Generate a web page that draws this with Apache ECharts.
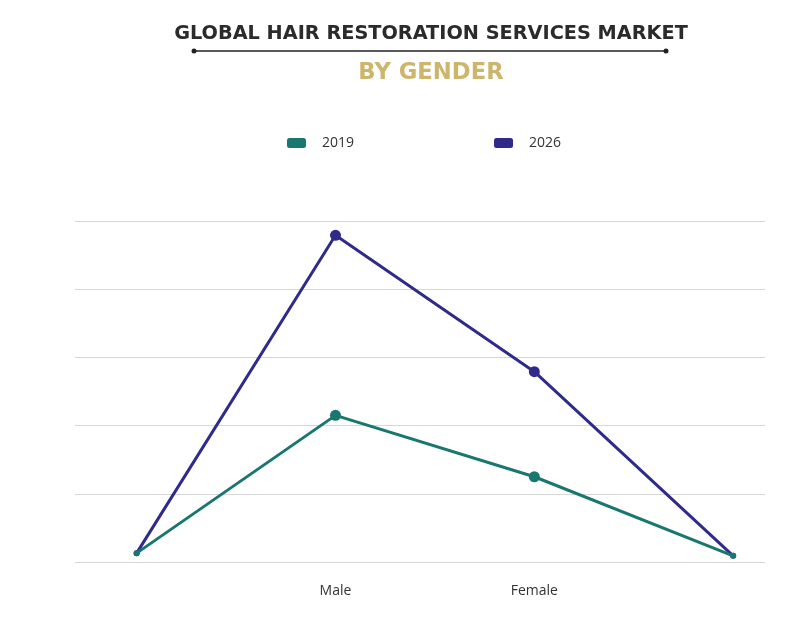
<!DOCTYPE html>
<html>
<head>
<meta charset="utf-8">
<script src="https://cdn.jsdelivr.net/npm/echarts@6/dist/echarts.min.js"></script>
<style>
    html, body { margin: 0; padding: 0; background: #fff; }
    #chart { width: 808px; height: 617px; }
</style>
</head>
<body>
    <div id="chart"></div>
    <script>
        // categories along x, blank ends are where the lines start and stop
        var categories = ['', 'Male', 'Female', ''];
        var years = ['2019', '2026'];
        var values2019 = [0.13, 2.15, 1.25, 0.09];
        var values2026 = [0.13, 4.79, 2.79, 0.09];
        var yTicks = [0, 1, 2, 3, 4, 5];

        var myChart = echarts.init(document.getElementById('chart'));

        function toPoints(arr) {
            return arr.map(function (v, i) {
                var end = (i === 0 || i === arr.length - 1);
                return { value: [i, v], symbolSize: end ? 6 : 11 };
            });
        }

        var option = {
            backgroundColor: '#fff',
            title: [{
                text: 'GLOBAL HAIR RESTORATION SERVICES MARKET',
                left: 426, top: 19, textAlign: 'center',
                textStyle: { fontFamily: 'DejaVu Sans', fontWeight: 'bold', fontSize: 19.3, color: '#2b2b2b' }
            }, {
                text: 'BY GENDER',
                left: 426, top: 57, textAlign: 'center',
                textStyle: { fontFamily: 'DejaVu Sans', fontWeight: 'bold', fontSize: 22.7, color: '#cdb66c' }
            }],
            graphic: [
                { type: 'line', shape: { x1: 194, y1: 51, x2: 666, y2: 51 }, style: { stroke: '#222', lineWidth: 1.5 } },
                { type: 'circle', shape: { cx: 194, cy: 51, r: 2.5 }, style: { fill: '#222' } },
                { type: 'circle', shape: { cx: 666, cy: 51, r: 2.5 }, style: { fill: '#222' } }
            ],
            legend: {
                data: years,
                left: 282, top: 131,
                icon: 'roundRect',
                itemWidth: 19, itemHeight: 10,
                itemGap: 140,
                textStyle: { fontFamily: 'Open Sans', fontSize: 14, color: '#333', padding: [0, 0, 0, 11] }
            },
            grid: { left: 75, right: 43, top: 221, bottom: 55, containLabel: false },
            xAxis: {
                type: 'value',
                min: -0.31, max: 3.16,
                axisLine: { show: false },
                axisTick: { show: false },
                splitLine: { show: false },
                axisLabel: {
                    customValues: [1, 2],
                    margin: 22,
                    fontFamily: 'Open Sans', fontSize: 14, color: '#333',
                    formatter: function (v) { return categories[Math.round(v)]; }
                }
            },
            yAxis: {
                type: 'value',
                min: yTicks[0], max: yTicks[yTicks.length - 1], interval: 1,
                axisLine: { show: false },
                axisTick: { show: false },
                axisLabel: { show: false },
                splitLine: { lineStyle: { color: '#d6d6d6', width: 1.2 } }
            },
            series: [{
                name: years[0],
                type: 'line',
                data: toPoints(values2019),
                symbol: 'circle',
                color: '#18786f',
                lineStyle: { width: 3 },
                z: 3
            }, {
                name: years[1],
                type: 'line',
                data: toPoints(values2026),
                symbol: 'circle',
                color: '#302b8b',
                lineStyle: { width: 3 },
                z: 2
            }]
        };

        myChart.setOption(option);
    </script>
</body>
</html>
